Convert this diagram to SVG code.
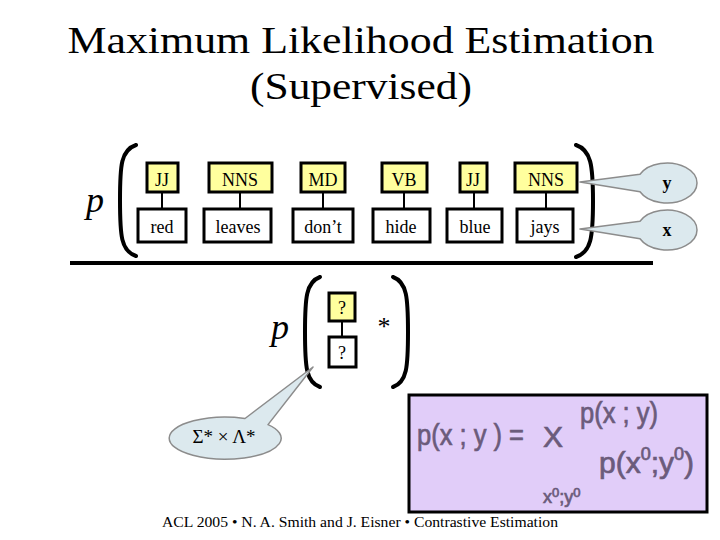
<svg xmlns="http://www.w3.org/2000/svg" width="720" height="540" viewBox="0 0 720 540">
<style>
.serif{font-family:"Liberation Serif","DejaVu Serif",serif;fill:#000}
.tag{fill:#FFFF9E;stroke:#000;stroke-width:3}
.word{fill:#fff;stroke:#000;stroke-width:3}
.lbl{font-family:"Liberation Serif","DejaVu Serif",serif;font-size:18px;text-anchor:middle;fill:#000}
.paren{fill:none;stroke:#000;stroke-width:4;stroke-linecap:round}
.conn{stroke:#000;stroke-width:2}
.callout{fill:#DCE9EE;stroke:#8C8C8C;stroke-width:1.5;stroke-linejoin:round}
.math{font-family:"Liberation Sans","DejaVu Sans",sans-serif;fill:#6B5B7B;stroke:#6B5B7B;stroke-width:0.7}
</style>
<rect width="720" height="540" fill="#fff"/>

<g id="title">
<text class="serif" x="361" y="53" font-size="38" text-anchor="middle" textLength="587" lengthAdjust="spacingAndGlyphs">Maximum Likelihood Estimation</text>
<text class="serif" x="361" y="99" font-size="38" text-anchor="middle" textLength="222" lengthAdjust="spacingAndGlyphs">(Supervised)</text>
</g>

<g id="top-p"><text class="serif" x="86" y="212" font-size="36" font-style="italic">p</text></g>
<g id="top-parens">
<path class="paren" d="M136,145 C121,150 120,165 120,200 C120,236 121,251 136,256"/>
<path class="paren" d="M576,145 C591,150 593,165 593,201 C593,238 591,252 576,257"/>
</g>

<g id="connectors">
<line class="conn" x1="162" y1="192" x2="162" y2="209"/>
<line class="conn" x1="240" y1="192" x2="240" y2="209"/>
<line class="conn" x1="323" y1="192" x2="323" y2="209"/>
<line class="conn" x1="404" y1="192" x2="404" y2="209"/>
<line class="conn" x1="474" y1="192" x2="474" y2="209"/>
<line class="conn" x1="546" y1="192" x2="546" y2="209"/>
<line class="conn" x1="342" y1="321" x2="342" y2="337"/>
</g>

<g id="n1"><rect class="tag" x="147" y="163" width="31" height="29"/><text class="lbl" x="162" y="186">JJ</text>
<rect class="word" x="138" y="209" width="48" height="33"/><text class="lbl" x="162" y="233">red</text></g>
<g id="n2"><rect class="tag" x="209" y="163" width="63" height="29"/><text class="lbl" x="240" y="186">NNS</text>
<rect class="word" x="204" y="209" width="67" height="33"/><text class="lbl" x="238" y="233">leaves</text></g>
<g id="n3"><rect class="tag" x="301" y="163" width="44" height="29"/><text class="lbl" x="323" y="186">MD</text>
<rect class="word" x="293" y="209" width="60" height="33"/><text class="lbl" x="323" y="233">don’t</text></g>
<g id="n4"><rect class="tag" x="382" y="163" width="45" height="29"/><text class="lbl" x="404" y="186">VB</text>
<rect class="word" x="373" y="209" width="57" height="33"/><text class="lbl" x="401" y="233">hide</text></g>
<g id="n5"><rect class="tag" x="460" y="163" width="27" height="29"/><text class="lbl" x="473" y="186">JJ</text>
<rect class="word" x="447" y="209" width="55" height="33"/><text class="lbl" x="475" y="233">blue</text></g>
<g id="n6"><rect class="tag" x="515" y="163" width="62" height="29"/><text class="lbl" x="546" y="186">NNS</text>
<rect class="word" x="517" y="209" width="56" height="33"/><text class="lbl" x="545" y="233">jays</text></g>

<g id="callout-y"><path class="callout" d="M640,174.3 A30 20 0 1 1 640,191.7 L580,182 Z"/>
<text class="serif" x="667" y="189" font-size="18" font-weight="bold" text-anchor="middle">y</text></g>
<g id="callout-x"><path class="callout" d="M640,221.3 A30 20 0 1 1 640,238.7 L580,229 Z"/>
<text class="serif" x="667" y="236" font-size="18" font-weight="bold" text-anchor="middle">x</text></g>

<line x1="70" y1="263" x2="653" y2="263" stroke="#000" stroke-width="4"/>

<g id="bottom-p"><text class="serif" x="271" y="339" font-size="36" font-style="italic">p</text></g>
<g id="bottom-parens">
<path class="paren" d="M320,277 C306,282 305,298 305,332 C305,367 306,382 320,387"/>
<path class="paren" d="M393,277 C407,282 408,298 408,332 C408,367 407,382 393,387"/>
</g>
<g id="nq"><rect class="tag" x="329" y="293" width="26" height="28"/><text class="lbl" x="342" y="314" font-size="17">?</text>
<rect class="word" x="329" y="337" width="27" height="30"/><text class="lbl" x="342" y="359" font-size="17">?</text></g>
<g id="star"><text class="serif" x="384" y="335" font-size="26" text-anchor="middle">*</text></g>

<g id="callout-sigma"><path class="callout" d="M245,418.5 L313,367 L268,424.6 A56 21 0 1 1 245,418.5 Z"/>
<text class="serif" x="224" y="443" font-size="19" text-anchor="middle">Σ* × Λ*</text></g>

<g id="formula">
<rect x="409" y="395" width="298" height="117" fill="#E1CDF9" stroke="#000" stroke-width="3"/>
<text class="math" x="417" y="445" font-size="30" textLength="107" lengthAdjust="spacingAndGlyphs">p(x ; y ) =</text>
<text class="math" x="543" y="447" font-size="30">X</text>
<text class="math" x="580" y="423" font-size="29" textLength="78" lengthAdjust="spacingAndGlyphs">p(x ; y)</text>
<text class="math" x="599" y="473" font-size="30">p(x<tspan font-size="18" dy="-13">0</tspan><tspan dy="13">;</tspan>y<tspan font-size="18" dy="-13">0</tspan><tspan dy="13">)</tspan></text>
<text class="math" x="543" y="503" font-size="18" stroke-width="0.4">x<tspan font-size="13" dy="-6">0</tspan><tspan dy="6">;</tspan>y<tspan font-size="13" dy="-6">0</tspan></text>
</g>

<g id="footer"><text class="serif" x="162" y="527" font-size="14" textLength="396" lengthAdjust="spacingAndGlyphs">ACL 2005  •  N. A. Smith and J. Eisner •  Contrastive Estimation</text></g>
</svg>
